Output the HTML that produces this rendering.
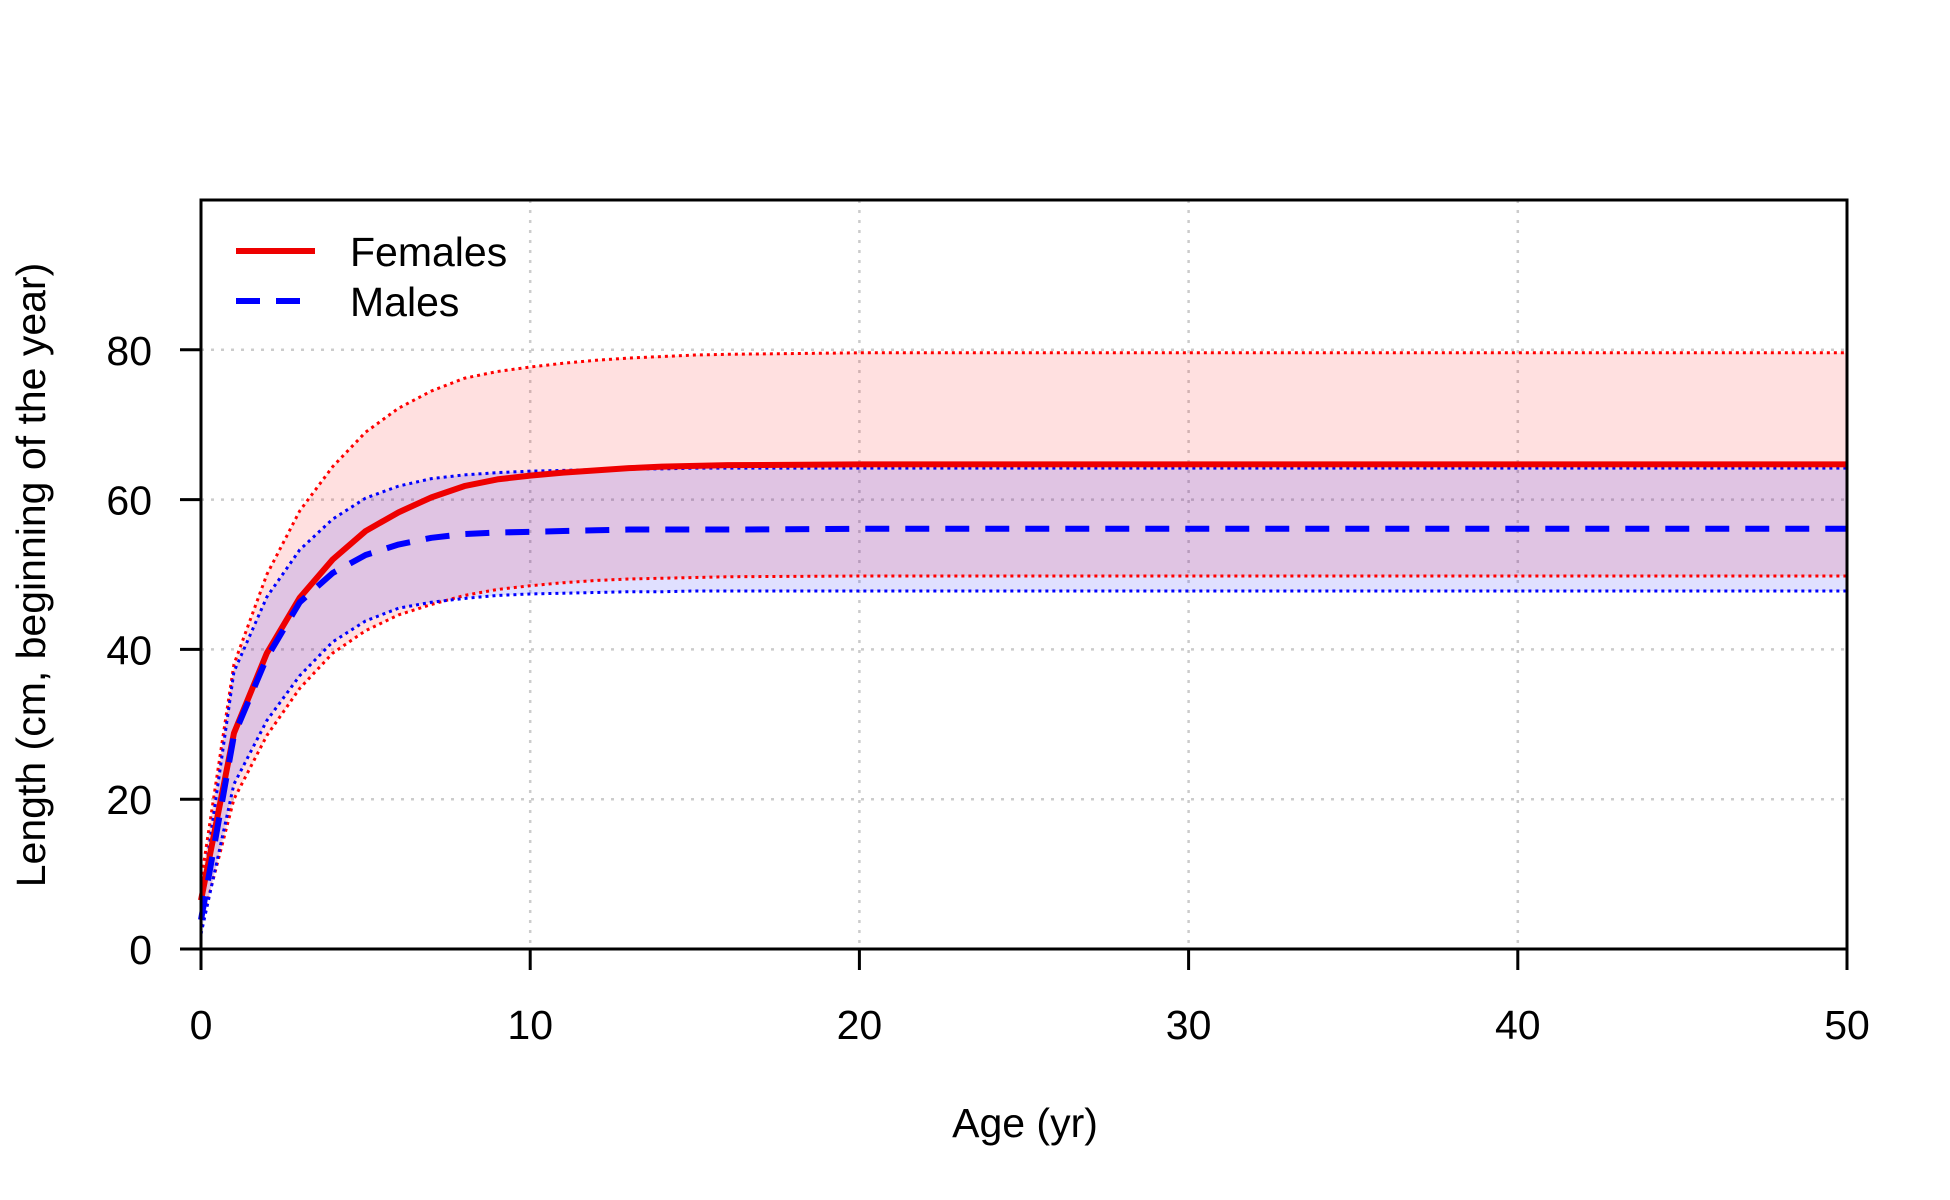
<!DOCTYPE html>
<html><head><meta charset="utf-8"><style>
html,body{margin:0;padding:0;background:#fff}
svg{display:block;font-family:"Liberation Sans",Arial,sans-serif}
</style></head><body>
<svg id="chart" width="1950" height="1200" viewBox="0 0 1950 1200">
<g id="grid"></g>
<g id="bands"></g>
<g id="lines"></g>
<g id="axes"></g>
<text x="1025" y="1137" font-size="41" text-anchor="middle">Age (yr)</text>
<text transform="translate(45,575) rotate(-90)" font-size="41" text-anchor="middle">Length (cm, beginning of the year)</text>
<g>
<g>
<line x1="236" y1="251" x2="315" y2="251" stroke="#ee0000" stroke-width="6"/>
<text x="350" y="266" font-size="41">Females</text></g>
<g>
<line x1="236" y1="301" x2="315" y2="301" stroke="#0000ff" stroke-width="6" stroke-dasharray="24,16"/>
<text x="350" y="316" font-size="41">Males</text></g>
</g>
</svg>
<script>
const ages      = [0,1,2,3,4,5,6,7,8,9,10,11,12,13,14,15,16,20,30,40,50];
const femMean   = [6.5,28.8,39.5,46.9,52,55.8,58.3,60.3,61.8,62.7,63.2,63.6,63.9,64.2,64.4,64.5,64.6,64.7,64.7,64.7,64.7];
const femUpper  = [9,38,50,58.5,64.4,69,72.2,74.5,76.2,77.1,77.7,78.2,78.6,78.9,79.1,79.3,79.4,79.6,79.6,79.6,79.6];
const femLower  = [3,20,28.5,34.8,39.5,42.5,44.6,46,47.2,48,48.5,48.9,49.2,49.4,49.5,49.6,49.7,49.8,49.8,49.8,49.8];
const maleMean  = [3.9,28.5,38.9,46.3,50.2,52.6,54,54.9,55.4,55.6,55.7,55.8,55.9,56,56,56,56,56.1,56.1,56.1,56.1];
const maleUpper = [6,37,47,53.3,57.4,60.2,61.8,62.8,63.3,63.6,63.8,63.9,64,64.1,64.1,64.2,64.2,64.2,64.2,64.2,64.2];
const maleLower = [2,22,30.5,36.5,41,43.8,45.5,46.3,46.8,47.2,47.4,47.5,47.6,47.7,47.7,47.8,47.8,47.8,47.8,47.8,47.8];
const xTicks = [0,10,20,30,40,50];
const yTicks = [0,20,40,60,80];

const L=201,R=1847,T=200,B=949;
const X=v=>L+(v/50)*(R-L);
const Y=v=>B-(v/100)*(B-T);
const NS="http://www.w3.org/2000/svg";
function mk(tag,parent,attrs){const e=document.createElementNS(NS,tag);for(const k in attrs)e.setAttribute(k,attrs[k]);parent.appendChild(e);return e;}
const grid=document.getElementById('grid'),bands=document.getElementById('bands'),lines=document.getElementById('lines'),axes=document.getElementById('axes');

xTicks.forEach(t=>{
  const g=mk('line',grid,{x1:X(t),x2:X(t),y1:T,y2:B,stroke:'#cccccc','stroke-width':2.5,'stroke-dasharray':'3,7'});
  
  
  const tk=mk('line',axes,{x1:X(t),x2:X(t),y1:B,y2:B+21,stroke:'#000','stroke-width':3});
  
  
  const tl=mk('text',axes,{x:X(t),y:1039,'font-size':41,'text-anchor':'middle'});tl.textContent=t;
  
  
});
yTicks.forEach(t=>{
  const g=mk('line',grid,{x1:L,x2:R,y1:Y(t),y2:Y(t),stroke:'#cccccc','stroke-width':2.5,'stroke-dasharray':'3,7'});
  
  
  const tk=mk('line',axes,{x1:L-21,x2:L,y1:Y(t),y2:Y(t),stroke:'#000','stroke-width':3});
  
  
  const tl=mk('text',axes,{x:152,y:Y(t)+15,'font-size':41,'text-anchor':'end'});tl.textContent=t;
  
  
});
const box=mk('rect',axes,{x:L,y:T,width:R-L,height:B-T,fill:'none',stroke:'#000','stroke-width':3});



function pts(arr){return ages.map((a,i)=>X(a)+','+Y(arr[i])).join(' ');}
function band(up,lo,fill,name){
  const p=ages.map((a,i)=>X(a)+','+Y(up[i])).concat(ages.slice().reverse().map((a,j)=>{const i=ages.length-1-j;return X(a)+','+Y(lo[i]);}));
  const e=mk('polygon',bands,{points:p.join(' '),fill:fill});
  
  
}
band(femUpper,femLower,'rgba(255,0,0,0.12)','female-band');
band(maleUpper,maleLower,'rgba(0,0,255,0.12)','male-band');
function line(arr,color,w,dash,name){
  const e=mk('polyline',lines,{points:pts(arr),fill:'none',stroke:color,'stroke-width':w,'stroke-dasharray':dash,'stroke-linejoin':'round'});
  
  
}
line(femUpper,'#ff0000',3,'3,4','female-upper');
line(femLower,'#ff0000',3,'3,4','female-lower');
line(maleUpper,'#0000ff',3,'3,4','male-upper');
line(maleLower,'#0000ff',3,'3,4','male-lower');
line(femMean,'#ee0000',6,'none','female-mean');
line(maleMean,'#0000ff',6,'24,16','male-mean');
</script>
</body></html>
